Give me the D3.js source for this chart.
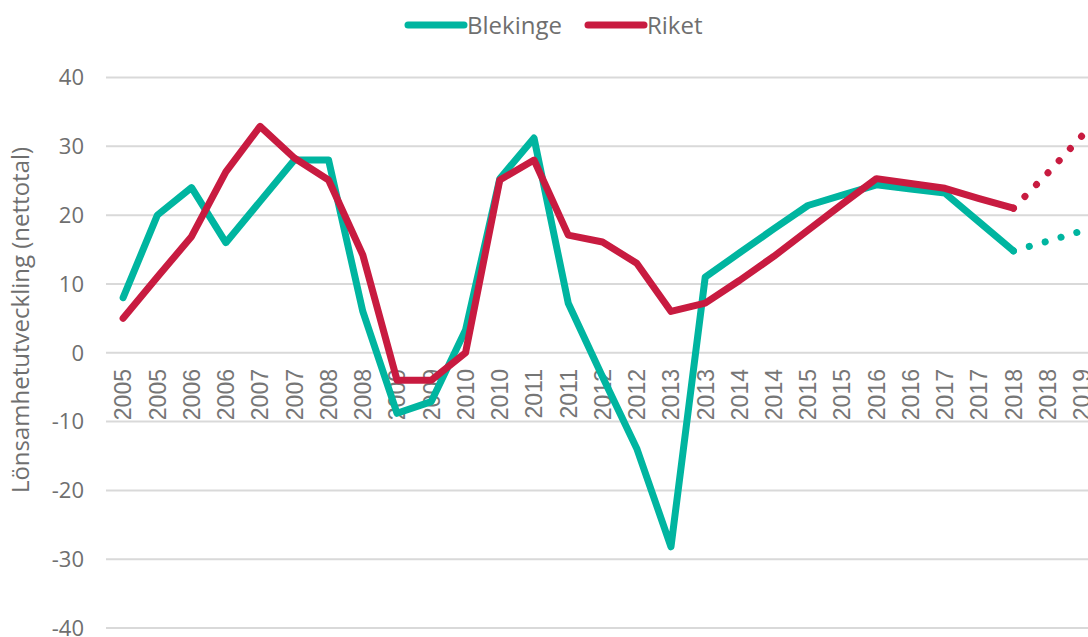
<!DOCTYPE html>
<html>
<head>
<meta charset="utf-8">
<script src="https://cdn.jsdelivr.net/npm/d3@7"></script>
<style>
  body { margin: 0; background: #fff; }
  svg { display: block; overflow: hidden; }
</style>
</head>
<body>
<div class="chart"></div>
<script>
// category labels along the x axis (two points per year)
const years = ["2005","2005","2006","2006","2007","2007","2008","2008","2009","2009",
  "2010","2010","2011","2011","2012","2012","2013","2013","2014","2014",
  "2015","2015","2016","2016","2017","2017","2018","2018","2019"];

const blekinge = [8, 20, 24, 16, 22, 28, 28, 6, -8.8, -7.1,
  3.3, 25.3, 31.2, 7.2, -3.5, -13.9, -28.2, 11, 14.5, 18,
  21.4, 22.9, 24.4, 23.8, 23.2, 19, 14.8, 16.2, 17.7];

const riket = [5, 11, 16.9, 26.3, 32.9, 28.3, 25.1, 14.2, -4, -4,
  0, 25.1, 28, 17.1, 16.1, 13, 6, 7.2, 10.5, 14,
  17.8, 21.6, 25.3, 24.6, 23.9, 22.4, 21, 26.1, 31.5];

// index where the forecast (dotted) part starts
const forecastFrom = 26;

const yTicks = [-40, -30, -20, -10, 0, 10, 20, 30, 40];
const seriesNames = ["Blekinge", "Riket"];
const colors = { "Blekinge": "#00b5a0", "Riket": "#c81b40" };

function drawChart() {
    const width = 1088;
    const height = 637;
    const font = '"Open Sans", sans-serif';

    const svg = d3.select('.chart')
      .append('svg')
      .attr('width', width)
      .attr('height', height);

    const x = d3.scalePoint()
      .domain(d3.range(years.length))
      .range([106, 1099])
      .padding(0.5);

    const y = d3.scaleLinear()
      .domain([-40, 40])
      .range([628, 77.5]);

    // gridlines
    svg.append('g').selectAll('line')
      .data(yTicks)
      .enter().append('line')
        .attr('x1', 106)
        .attr('x2', width)
        .attr('y1', d => y(d))
        .attr('y2', d => y(d))
        .attr('stroke', '#d9d9d9')
        .attr('stroke-width', 2);

    // y tick labels
    svg.append('g').selectAll('text')
      .data(yTicks)
      .enter().append('text')
        .attr('x', 84)
        .attr('y', d => y(d))
        .attr('dy', '0.36em')
        .attr('text-anchor', 'end')
        .attr('font-family', font)
        .attr('font-size', 22)
        .attr('fill', '#6f6f6f')
        .text(d => d);

    // x tick labels, rotated, hanging just below zero
    svg.append('g').selectAll('text')
      .data(years)
      .enter().append('text')
        .attr('transform', (d, i) => `translate(${x(i)}, 369) rotate(-90)`)
        .attr('dy', '0.36em')
        .attr('text-anchor', 'end')
        .attr('font-family', '"Liberation Sans", Arial, sans-serif')
        .attr('font-size', 23)
        .attr('fill', '#767676')
        .text(d => d);

    // y axis title
    svg.append('text')
      .attr('transform', 'translate(21, 320) rotate(-90)')
      .attr('dy', '0.35em')
      .attr('text-anchor', 'middle')
      .attr('font-family', font)
      .attr('font-size', 24)
      .attr('fill', '#6f6f6f')
      .text('Lönsamhetutveckling (nettotal)');

    const line = d3.line()
      .x(d => x(d.i))
      .y(d => y(d.v));

    const series = { "Blekinge": blekinge, "Riket": riket };
    seriesNames.forEach(name => {
        const pts = series[name].map((v, i) => ({ i, v }));
        // forecast part first so the solid end cap sits on top
        svg.append('path')
          .attr('d', line(pts.slice(forecastFrom)))
          .attr('fill', 'none')
          .attr('stroke', colors[name])
          .attr('stroke-width', 7)
          .attr('stroke-linecap', 'round')
          .attr('stroke-dasharray', '0.1 16.4');
        svg.append('path')
          .attr('d', line(pts.slice(0, forecastFrom + 1)))
          .attr('fill', 'none')
          .attr('stroke', colors[name])
          .attr('stroke-width', 7)
          .attr('stroke-linejoin', 'round')
          .attr('stroke-linecap', 'round');
    });

    // legend
    const legendX = { "Blekinge": 408, "Riket": 588 };
    const legend = svg.append('g').selectAll('g')
      .data(seriesNames)
      .enter().append('g')
        .attr('transform', d => `translate(${legendX[d]}, 25)`);
    legend.append('line')
      .attr('x1', 0).attr('x2', 56)
      .attr('stroke', d => colors[d])
      .attr('stroke-width', 7)
      .attr('stroke-linecap', 'round');
    legend.append('text')
      .attr('x', 59)
      .attr('dy', '0.36em')
      .attr('font-family', font)
      .attr('font-size', 24)
      .attr('fill', '#6f6f6f')
      .text(d => d);
}

drawChart();
</script>
</body>
</html>
